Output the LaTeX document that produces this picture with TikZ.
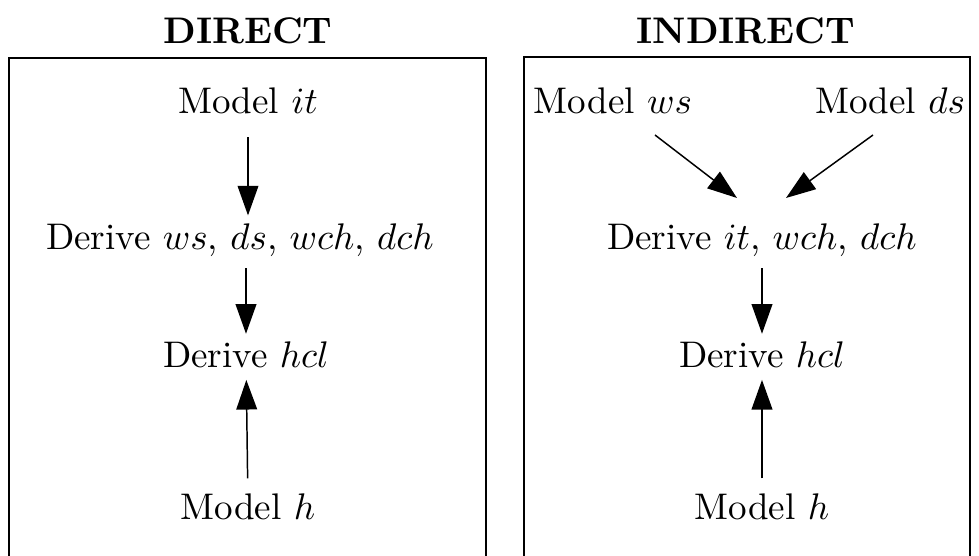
\documentclass[tikz,border=0pt]{standalone}
\usepackage{tikz}
\usetikzlibrary{arrows.meta}

\begin{document}
\begin{tikzpicture}[x=0.27pt,y=-0.27pt,
    lbl/.style={inner sep=0pt},
    arr/.style={-{Triangle[length=8pt,width=5.6pt]}}]
        \useasboundingbox (0,0) rectangle (979,556);
        % Cadres
        \draw (9,570) -- (9,58) -- (486,58) -- (486,570);
        \draw (524,570) -- (524,57) -- (970,57) -- (970,570);
        % Titres
        \node[lbl] (titleD) at (248,31) {\textbf{DIRECT}};
        \node[lbl] (titleI) at (746,31) {\textbf{INDIRECT}};
        % Schema direct
        \node[lbl] (itD) at (248,101) {Model $it$};
        \node[lbl] (derD) at (240,240) {Derive $ws$, $ds$, $wch$, $dch$};
        \node[lbl] (hclD) at (246,355) {Derive $hcl$};
        \node[lbl] (hD) at (248,507) {Model $h$};
        \draw[arr, shorten <=6pt, shorten >=2pt] (itD) -- (itD |- derD.north);
        \draw[arr, shorten <=3pt, shorten >=2pt] (derD.south -| hclD) -- (hclD);
        \draw[arr, shorten <=4pt, shorten >=3pt] (hD) -- (hclD);
        % Schema indirect
        \node[lbl] (wsI) at (613,101) {Model $ws$};
        \node[lbl] (dsI) at (890,101) {Model $ds$};
        \node[lbl] (derI) at (762,240) {Derive $it$, $wch$, $dch$};
        \node[lbl] (hclI) at (762,355) {Derive $hcl$};
        \node[lbl] (hI) at (762,507) {Model $h$};
        \coordinate (wsOut) at (655,135);
        \coordinate (dsOut) at (873,135);
        \coordinate (wsIn) at (737,198);
        \coordinate (dsIn) at (786,198);
        \draw[arr] (wsOut) -- (wsIn);
        \draw[arr] (dsOut) -- (dsIn);
        \draw[arr, shorten <=3pt, shorten >=2pt] (derI) -- (hclI);
        \draw[arr, shorten <=4pt, shorten >=3pt] (hI) -- (hclI);
\end{tikzpicture}
\end{document}
